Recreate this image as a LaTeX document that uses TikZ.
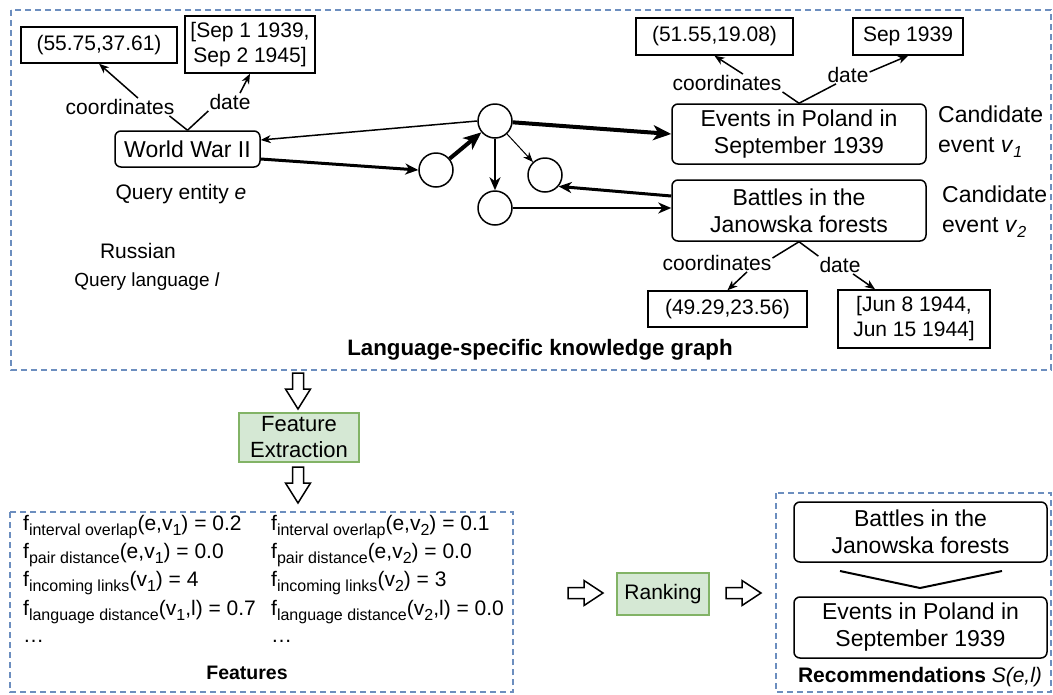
\documentclass[tikz,border=0pt]{standalone}
\usepackage{fontspec}
\setmainfont{Liberation Sans}
\usetikzlibrary{arrows.meta,calc}
\definecolor{dashblue}{HTML}{6C8EBF}
\definecolor{gfill}{HTML}{D5E8D4}
\definecolor{gdraw}{HTML}{82B366}
\newcommand\fsub[1]{\raisebox{-5pt}{\fontsize{16}{16}\selectfont #1}}
\newcommand\isub[1]{\raisebox{-5pt}{\fontsize{16}{16}\selectfont\itshape #1}}
\begin{document}
\begin{tikzpicture}[x=1pt,y=-1pt,
 font=\fontsize{21}{25}\selectfont,
 group/.style={draw=dashblue, line width=1.5pt, dash pattern=on 6pt off 4pt},
 mainbox/.style={draw, rounded corners=6pt, line width=1.5pt, align=center, font=\fontsize{23}{27}\selectfont, inner sep=0},
 valbox/.style={draw, line width=1.5pt, align=center, font=\fontsize{21}{25}\selectfont, inner sep=0},
 lab/.style={fill=white, inner sep=1pt, font=\fontsize{21}{25}\selectfont},
 circ/.style={draw, circle, line width=1.5pt, minimum size=34pt, inner sep=0},
 proc/.style={draw=gdraw, fill=gfill, line width=2pt, align=center, inner sep=0, font=\fontsize{22}{26}\selectfont},
 feat/.style={anchor=west, inner sep=0, font=\fontsize{21}{25}\selectfont},
 ttl/.style={inner sep=0, font=\fontsize{20}{24}\selectfont\bfseries},
 tipS/.style={-{Stealth[length=10pt,width=8pt,inset=3pt]}},
 tipM/.style={-{Stealth[length=13pt,width=11pt,inset=4pt]}},
 tipL/.style={-{Stealth[length=18pt,width=15pt,inset=5pt]}},
 pics/downarr/.style={code={\draw[line width=1.5pt,fill=white] (-5.5,0) -- (5.5,0) -- (5.5,16) -- (12.5,16) -- (0,36) -- (-12.5,16) -- (-5.5,16) -- cycle;}},
 pics/rightarr/.style={code={\draw[line width=1.5pt,fill=white] (0,-5.5) -- (16,-5.5) -- (16,-12.5) -- (35,0) -- (16,12.5) -- (16,5.5) -- (0,5.5) -- cycle;}},
]
\useasboundingbox (0,0) rectangle (1053,694);
\fill[white] (0,0) rectangle (1053,694);

% group frames
\draw[group] (11,10) rectangle (1051,370);
\draw[group] (10,512) rectangle (513,692);
\draw[group] (776,493) rectangle (1051,692);

% top-left entity
\node[mainbox, minimum width=145pt, minimum height=36pt] (wwii) at (187.5,149) {World War II};
\node[valbox, minimum width=156pt, minimum height=36pt] (cbox1) at (99,45) {(55.75,37.61)};
\node[valbox, minimum width=130pt, minimum height=57pt] (dbox1) at (250,44.5) {[Sep 1 1939,\\Sep 2 1945]};
\node[lab] (lab1) at (120,107) {coordinates};
\node[lab] (lab2) at (230,102) {date};
\node[inner sep=0] (qe) at (181,194) {Query entity \textit{e}};
\node[inner sep=0] (rus) at (138,251) {Russian};
\node[inner sep=0, font=\fontsize{19}{23}\selectfont] (ql) at (147,282) {Query language \textit{l}};

\draw[line width=1.5pt] (wwii.north) -- ([xshift=-6pt]lab1.south east);
\draw[line width=1.5pt, tipS] ([xshift=18pt]lab1.north) -- (cbox1.south);
\draw[line width=1.5pt] (wwii.north) -- (lab2.south west);
\draw[line width=1.5pt, tipS] ([xshift=10pt]lab2.north) -- (dbox1.south);

% candidate events
\node[mainbox, minimum width=254pt, minimum height=60pt] (ev) at (799,134) {Events in Poland in\\September 1939};
\node[mainbox, minimum width=254pt, minimum height=61pt] (bt) at (799,210.5) {Battles in the\\Janowska forests};
\node[anchor=west, align=left, inner sep=0, font=\fontsize{23}{30}\selectfont] (cand1) at (938,132) {Candidate\\event \textit{v}\isub{1}};
\node[anchor=west, align=left, inner sep=0, font=\fontsize{23}{30}\selectfont] (cand2) at (942,212) {Candidate\\event \textit{v}\isub{2}};

\node[valbox, minimum width=157pt, minimum height=37pt] (cbox2) at (714.5,36.5) {(51.55,19.08)};
\node[valbox, minimum width=110pt, minimum height=37pt] (dbox2) at (908,36.5) {Sep 1939};
\node[lab] (lab3) at (727,83) {coordinates};
\node[lab] (lab4) at (848,75) {date};
\draw[line width=1.5pt] (ev.north) -- (lab3.south east);
\draw[line width=1.5pt, tipS] ([xshift=16pt]lab3.north) -- (cbox2.south);
\draw[line width=1.5pt] (ev.north) -- ([xshift=-12pt]lab4.south);
\draw[line width=1.5pt, tipS] ([yshift=3pt]lab4.east) -- (dbox2.south);

\node[valbox, minimum width=159pt, minimum height=36pt] (cbox3) at (727.5,309) {(49.29,23.56)};
\node[valbox, minimum width=152pt, minimum height=58pt] (dbox3) at (914,319) {[Jun 8 1944,\\Jun 15 1944]};
\node[lab] (lab5) at (717,263) {coordinates};
\node[lab] (lab6) at (840,265) {date};
\draw[line width=1.5pt] (bt.south) -- ([yshift=5pt]lab5.east);
\draw[line width=1.5pt, tipS] ([xshift=30pt]lab5.south) -- (cbox3.north);
\draw[line width=1.5pt] (bt.south) -- (lab6.north west);
\draw[line width=1.5pt, tipS] ([xshift=13pt]lab6.south) -- ([xshift=-39pt]dbox3.north);

% graph nodes
\node[circ] (ctop) at (495,121) {};
\node[circ] (cleft) at (436,170) {};
\node[circ] (cright) at (545,175) {};
\node[circ] (cbot) at (495,208) {};

\draw[line width=1.5pt, tipS] (ctop.west) -- ([yshift=9pt]wwii.east);
\draw[line width=3pt, tipM] ([yshift=-10pt]wwii.east) -- (cleft.west);
\draw[line width=4pt, tipL] (cleft) -- (ctop);
\draw[line width=4pt, tipL] (ctop) -- (ev.west);
\draw[line width=1pt, tipS] (ctop) -- (cright);
\draw[line width=2pt, tipM] (ctop) -- (cbot);
\draw[line width=3pt, tipM] ([yshift=14.5pt]bt.west) -- (cright.-40);
\draw[line width=2pt, tipM] (cbot.east) -- (cbot.east -| bt.west);

\node[ttl, font=\fontsize{22.3}{26}\selectfont\bfseries] (kgt) at (540,350) {Language-specific knowledge graph};

% pipeline
\pic (da1) at (298,373) {downarr};
\node[proc, minimum width=120pt, minimum height=49pt] (fe) at (299,437.5) {Feature\\Extraction};
\pic (da2) at (298,467) {downarr};

\node[feat] (f11) at (23,527) {f\fsub{interval overlap}(e,v\fsub{1}) = 0.2};
\node[feat] (f12) at (23,555) {f\fsub{pair distance}(e,v\fsub{1}) = 0.0};
\node[feat] (f13) at (23,583) {f\fsub{incoming links}(v\fsub{1}) = 4};
\node[feat] (f14) at (23,612) {f\fsub{language distance}(v\fsub{1},l) = 0.7};
\node[feat] (f15) at (23,641) {…};
\node[feat] (f21) at (271,527) {f\fsub{interval overlap}(e,v\fsub{2}) = 0.1};
\node[feat] (f22) at (271,555) {f\fsub{pair distance}(e,v\fsub{2}) = 0.0};
\node[feat] (f23) at (271,583) {f\fsub{incoming links}(v\fsub{2}) = 3};
\node[feat] (f24) at (271,612) {f\fsub{language distance}(v\fsub{2},l) = 0.0};
\node[feat] (f25) at (271,641) {…};
\node[ttl, font=\fontsize{19.5}{24}\selectfont\bfseries] (ft) at (247,673) {Features};

\pic (ra1) at (568,593) {rightarr};
\node[proc, minimum width=92pt, minimum height=42pt, font=\fontsize{21}{25}\selectfont] (rk) at (663,594) {Ranking};
\pic (ra2) at (726,593) {rightarr};

\node[mainbox, minimum width=253pt, minimum height=60pt] (r1) at (920.5,532) {Battles in the\\Janowska forests};
\node[mainbox, minimum width=253pt, minimum height=61pt] (r2) at (920.5,627.5) {Events in Poland in\\September 1939};
\draw[line width=2pt] (840,571) -- (920,588) -- (1002,571);
\node[ttl, font=\fontsize{21}{25}\selectfont\bfseries] (rt) at (920,677) {Recommendations \mdseries\itshape S(e,l)};
\end{tikzpicture}
\end{document}
